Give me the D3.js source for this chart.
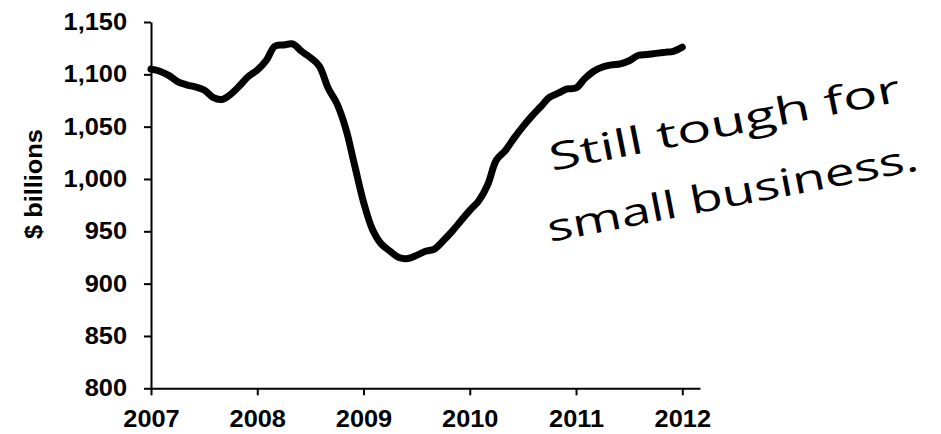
<!DOCTYPE html>
<html><head><meta charset="utf-8">
<script src="https://cdn.jsdelivr.net/npm/d3@7"></script>
<style>html,body{margin:0;padding:0;background:#fff;} svg{display:block;}</style>
</head><body>
<svg id="chart" width="941" height="434"></svg>
<script>
// ---- data ----
const yearLabels = ["2007", "2008", "2009", "2010", "2011", "2012"];
const yearTickMonths = [0, 12, 24, 36, 48, 60];
const loanValues = [
  1105, 1103, 1099, 1093, 1090, 1088, 1085, 1078, 1076, 1081, 1089, 1098,
  1104, 1113, 1127, 1128, 1129, 1122, 1116, 1108, 1087, 1072, 1048, 1013,
  978, 952, 938, 931, 925, 924, 927, 931, 933, 941, 950, 960,
  970, 979, 994, 1018, 1027, 1039, 1050, 1060, 1069, 1078, 1082, 1086,
  1087, 1096, 1103, 1107, 1109, 1110, 1113, 1118, 1119, 1120, 1121, 1122,
  1126
];
const yTicks = [800, 850, 900, 950, 1000, 1050, 1100, 1150];
const yLabel = "$ billions";
const noteLines = ["Still tough for", "small business."];

// ---- layout ----
const svg = d3.select("#chart");
const x = d3.scaleLinear().domain([0, 62]).range([151, 700]);
const y = d3.scaleLinear().domain([800, 1150]).range([388.3, 22]);
const sx = 1.08;
const labelFont = "'Liberation Sans', Arial, sans-serif";

function styleAxis(g) {
  g.selectAll(".domain").attr("stroke", "#000").attr("stroke-width", 2);
  g.selectAll(".tick line").attr("stroke", "#000").attr("stroke-width", 2);
  g.selectAll(".tick text")
    .attr("fill", "#000")
    .style("font-family", labelFont)
    .style("font-weight", "bold")
    .style("font-size", "23.5px");
}

// y axis
const gy = svg.append("g").attr("transform", "translate(151,0)")
  .call(d3.axisLeft(y).tickValues(yTicks).tickFormat(d3.format(","))
    .tickSize(7).tickPadding(17).tickSizeOuter(0));
styleAxis(gy);
gy.attr("font-size", null).attr("font-family", null);
gy.selectAll(".tick text").each(function () {
  const t = d3.select(this);
  const xv = +t.attr("x");
  t.attr("x", xv / sx).attr("transform", `scale(${sx},1)`);
});

// x axis
const gx = svg.append("g").attr("transform", `translate(0,${y(800)})`)
  .call(d3.axisBottom(x).tickValues(yearTickMonths)
    .tickFormat((d, i) => yearLabels[i])
    .tickSize(7).tickPadding(15).tickSizeOuter(0));
styleAxis(gx);
gx.attr("font-size", null).attr("font-family", null);
gx.selectAll(".tick text").attr("transform", `scale(${sx},1)`);

// y label
svg.append("text")
  .attr("transform", `translate(42,184) rotate(-90) scale(${sx},1)`)
  .attr("text-anchor", "middle")
  .style("font-family", labelFont)
  .style("font-weight", "bold")
  .style("font-size", "23.5px")
  .attr("fill", "#000")
  .text(yLabel);

// line
const line = d3.line()
  .x((d, i) => x(i))
  .y(d => y(d))
  .curve(d3.curveCatmullRom);
svg.append("path")
  .datum(loanValues)
  .attr("d", line)
  .attr("fill", "none")
  .attr("stroke", "#000")
  .attr("stroke-width", 7)
  .attr("stroke-linejoin", "round")
  .attr("stroke-linecap", "round");

// handwritten note
const notePos = [
  { x: 552, y: 171, angle: -11.3, len: 357 },
  { x: 550, y: 242, angle: -11.0, len: 377 }
];
noteLines.forEach((txt, i) => {
  const p = notePos[i];
  svg.append("text")
    .attr("x", p.x).attr("y", p.y)
    .attr("transform", `rotate(${p.angle},${p.x},${p.y})`)
    .attr("textLength", p.len)
    .attr("lengthAdjust", "spacingAndGlyphs")
    .style("font-family", "'Open Sans', 'DejaVu Sans', sans-serif")
    .style("font-weight", "400")
    .style("font-size", "38px")
    .attr("fill", "#000")
    .text(txt);
});
</script>
</body></html>
